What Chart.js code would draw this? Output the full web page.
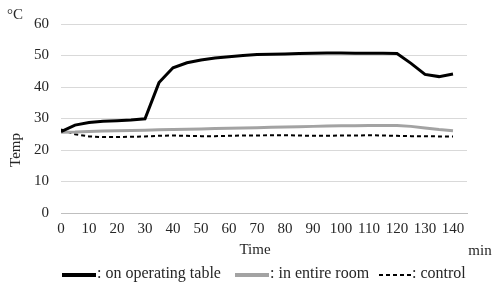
<!DOCTYPE html>
<html>
<head>
<meta charset="utf-8">
<script src="https://cdn.jsdelivr.net/npm/chart.js@4/dist/chart.umd.min.js"></script>
<style>
  html, body { margin: 0; padding: 0; background: #fff; }
  #wrap { width: 500px; height: 295px; position: relative; }
</style>
</head>
<body>
<div id="wrap"><canvas id="tempChart"></canvas></div>
<script>
// Time in minutes (every 5 min)
const minutes = [0, 5, 10, 15, 20, 25, 30, 35, 40, 45, 50, 55, 60, 65, 70, 75, 80, 85, 90, 95, 100, 105, 110, 115, 120, 125, 130, 135, 140];
const xTicks = [0, 10, 20, 30, 40, 50, 60, 70, 80, 90, 100, 110, 120, 130, 140];
const yTicks = [0, 10, 20, 30, 40, 50, 60];

// Temperatures (°C)
const operatingTable = [25.8, 27.9, 28.7, 29.1, 29.3, 29.5, 29.9, 41.4, 46.1, 47.7, 48.6, 49.2, 49.6, 50.0, 50.3, 50.4, 50.5, 50.6, 50.7, 50.8, 50.8, 50.7, 50.7, 50.7, 50.6, 47.5, 44.0, 43.3, 44.1];
const entireRoom = [25.6, 25.7, 25.9, 26.0, 26.1, 26.2, 26.3, 26.4, 26.5, 26.6, 26.7, 26.8, 26.9, 27.0, 27.1, 27.2, 27.3, 27.4, 27.5, 27.6, 27.7, 27.7, 27.8, 27.8, 27.8, 27.5, 27.0, 26.5, 26.1];
const control = [26.5, 25.0, 24.3, 24.1, 24.1, 24.2, 24.3, 24.5, 24.6, 24.5, 24.4, 24.4, 24.5, 24.6, 24.6, 24.7, 24.7, 24.6, 24.5, 24.5, 24.6, 24.6, 24.7, 24.6, 24.5, 24.4, 24.4, 24.3, 24.3];

const legendLabels = [': on operating table', ': in entire room', ': control'];

const FONT = '"Liberation Serif", "Times New Roman", serif';
const TEXT = '#262626';

const toPoints = vals => vals.map((v, i) => ({ x: minutes[i], y: v }));

// Extra labels (unit, axis titles) and the legend drawn on the canvas
const annotations = {
    id: 'annotations',
    afterDraw(chart) {
        const ctx = chart.ctx;
        ctx.save();
        ctx.fillStyle = TEXT;
        ctx.font = '15px ' + FONT;
        ctx.textBaseline = 'middle';
        ctx.textAlign = 'left';
        ctx.fillText('°C', 7, 15);
        ctx.textAlign = 'center';
        ctx.fillText('Time', 255, 250);
        ctx.fillText('min', 480, 251);

        ctx.save();
        ctx.translate(16, 150);
        ctx.rotate(-Math.PI / 2);
        ctx.fillText('Temp', 0, 0);
        ctx.restore();

        // legend: line sample followed by its label
        ctx.font = '16px ' + FONT;
        ctx.textAlign = 'left';
        const samples = [[62, 96], [235, 269], [379, 411]];
        chart.data.datasets.forEach((ds, i) => {
            const [x0, x1] = samples[i];
            ctx.save();
            ctx.strokeStyle = ds.borderColor;
            ctx.lineWidth = i === 2 ? 2 : 4;
            ctx.setLineDash(i === 2 ? [4, 3] : []);
            ctx.beginPath();
            ctx.moveTo(x0, 275);
            ctx.lineTo(x1, 275);
            ctx.stroke();
            ctx.restore();
            ctx.fillText(legendLabels[i], x1 + 1, 274);
        });
        ctx.restore();
    }
};

new Chart(document.getElementById('tempChart'), {
    type: 'line',
    data: {
        datasets: [
            {
                label: legendLabels[0],
                data: toPoints(operatingTable),
                borderColor: '#000000',
                borderWidth: 3,
                pointRadius: 0,
                tension: 0
            },
            {
                label: legendLabels[1],
                data: toPoints(entireRoom),
                borderColor: '#a3a3a3',
                borderWidth: 3,
                pointRadius: 0,
                tension: 0
            },
            {
                label: legendLabels[2],
                data: toPoints(control),
                borderColor: '#000000',
                borderWidth: 2,
                borderDash: [4, 3],
                pointRadius: 0,
                tension: 0
            }
        ]
    },
    options: {
        responsive: true,
        maintainAspectRatio: false,
        animation: false,
        layout: {
            padding: { top: 24, right: 33, bottom: 0, left: 0 }
        },
        plugins: {
            legend: { display: false },
            tooltip: { enabled: false }
        },
        scales: {
            x: {
                type: 'linear',
                min: 0,
                max: 145,
                afterBuildTicks: scale => {
                    scale.ticks = xTicks.map(v => ({ value: v }));
                },
                afterFit: scale => { scale.height = 82; },
                grid: { display: false, drawTicks: false },
                border: { display: true, color: '#bfbfbf', width: 1 },
                ticks: {
                    color: TEXT,
                    font: { family: FONT, size: 15 },
                    padding: 7,
                    maxRotation: 0,
                    autoSkip: false
                }
            },
            y: {
                min: 0,
                max: 60,
                afterBuildTicks: scale => {
                    scale.ticks = yTicks.map(v => ({ value: v }));
                },
                afterFit: scale => { scale.width = 61; },
                grid: { color: '#d9d9d9', drawTicks: false },
                border: { display: false },
                ticks: {
                    color: TEXT,
                    font: { family: FONT, size: 15 },
                    padding: 12
                }
            }
        }
    },
    plugins: [annotations]
});
</script>
</body>
</html>
